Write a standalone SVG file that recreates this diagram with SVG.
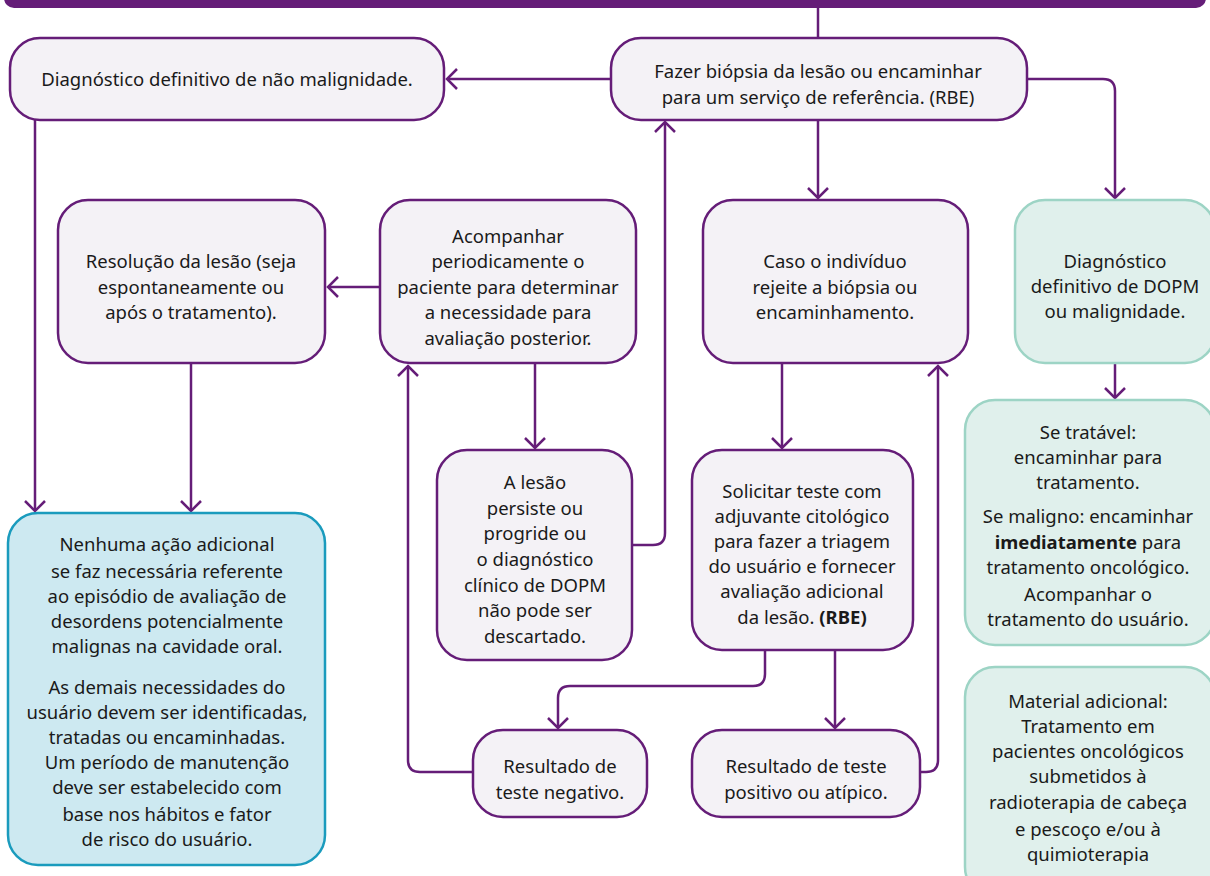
<svg xmlns="http://www.w3.org/2000/svg" width="1210" height="876" viewBox="0 0 1210 876">
<defs>
<style>
.p{fill:#f4f2f6;stroke:#651d78;stroke-width:2.5}
.g{fill:#e0f0ec;stroke:#9dd4c5;stroke-width:2.5}
.b{fill:#cde9f1;stroke:#1a9bbd;stroke-width:2.5}
text{font-family:"Noto Sans","Open Sans",sans-serif;font-size:18.5px;fill:#1a1a1a;text-anchor:middle;font-stretch:semi-condensed}
.c{fill:none;stroke:#651d78;stroke-width:2.5}
.bd{font-weight:bold}
</style>
<marker id="ah" markerUnits="userSpaceOnUse" markerWidth="26" markerHeight="26" viewBox="-13 -13 26 26" refX="0" refY="0" orient="auto">
<path d="M-10,-10 L0,0 L-10,10" fill="none" stroke="#651d78" stroke-width="2.5"/>
</marker>
</defs>
<rect x="4" y="-20" width="1202" height="28" rx="10" fill="#651d78"/>
<g id="connectors">
<path class="c" d="M818,8 V38"/>
<path class="c" d="M611,79 H447" marker-end="url(#ah)"/>
<path class="c" d="M1027,79 H1103 Q1115,79 1115,91 V198" marker-end="url(#ah)"/>
<path class="c" d="M818,120 V198" marker-end="url(#ah)"/>
<path class="c" d="M35,120 V511" marker-end="url(#ah)"/>
<path class="c" d="M380,287 H328" marker-end="url(#ah)"/>
<path class="c" d="M191,363 V511" marker-end="url(#ah)"/>
<path class="c" d="M535,363 V448" marker-end="url(#ah)"/>
<path class="c" d="M632,545 H653 Q665,545 665,533 V122" marker-end="url(#ah)"/>
<path class="c" d="M782,363 V448" marker-end="url(#ah)"/>
<path class="c" d="M1115,363 V398" marker-end="url(#ah)"/>
<path class="c" d="M765,650 V674 Q765,686 753,686 H570 Q558,686 558,698 V728" marker-end="url(#ah)"/>
<path class="c" d="M835,650 V728" marker-end="url(#ah)"/>
<path class="c" d="M473,772 H420 Q408,772 408,760 V366" marker-end="url(#ah)"/>
<path class="c" d="M920,772 H926 Q938,772 938,760 V366" marker-end="url(#ah)"/>
</g>
<g id="nA">
<rect class="p" x="10" y="38" width="434" height="82" rx="30"/>
<text x="227" y="86">Diagnóstico definitivo de não malignidade.</text>
</g>
<g id="nB">
<rect class="p" x="611" y="38" width="416" height="82" rx="30"/>
<text x="818" y="78">Fazer biópsia da lesão ou encaminhar</text>
<text x="818" y="104">para um serviço de referência. (RBE)</text>
</g>
<g id="nC">
<rect class="p" x="58" y="200" width="267" height="163" rx="30"/>
<text x="191" y="268">Resolução da lesão (seja</text>
<text x="191" y="294">espontaneamente ou</text>
<text x="191" y="319">após o tratamento).</text>
</g>
<g id="nD">
<rect class="p" x="380" y="200" width="256" height="163" rx="30"/>
<text x="508" y="243">Acompanhar</text>
<text x="508" y="268">periodicamente o</text>
<text x="508" y="294">paciente para determinar</text>
<text x="508" y="319">a necessidade para</text>
<text x="508" y="345">avaliação posterior.</text>
</g>
<g id="nE">
<rect class="p" x="703" y="200" width="265" height="163" rx="30"/>
<text x="835" y="268">Caso o indivíduo</text>
<text x="835" y="294">rejeite a biópsia ou</text>
<text x="835" y="319">encaminhamento.</text>
</g>
<g id="nF">
<rect class="g" x="1015" y="200" width="200" height="163" rx="30"/>
<text x="1115" y="268">Diagnóstico</text>
<text x="1115" y="293">definitivo de DOPM</text>
<text x="1115" y="318">ou malignidade.</text>
</g>
<g id="nG">
<rect class="p" x="437" y="450" width="195" height="210" rx="30"/>
<text x="535" y="489">A lesão</text>
<text x="535" y="515">persiste ou</text>
<text x="535" y="540">progride ou</text>
<text x="535" y="566">o diagnóstico</text>
<text x="535" y="592">clínico de DOPM</text>
<text x="535" y="617">não pode ser</text>
<text x="535" y="643">descartado.</text>
</g>
<g id="nH">
<rect class="p" x="692" y="450" width="221" height="200" rx="30"/>
<text x="802" y="498">Solicitar teste com</text>
<text x="802" y="523">adjuvante citológico</text>
<text x="802" y="548">para fazer a triagem</text>
<text x="802" y="573">do usuário e fornecer</text>
<text x="802" y="598">avaliação adicional</text>
<text x="802" y="624">da lesão. <tspan class="bd">(RBE)</tspan></text>
</g>
<g id="nI">
<rect class="p" x="473" y="730" width="174" height="87" rx="30"/>
<text x="560" y="773">Resultado de</text>
<text x="560" y="799">teste negativo.</text>
</g>
<g id="nJ">
<rect class="p" x="692" y="730" width="228" height="87" rx="30"/>
<text x="806" y="773">Resultado de teste</text>
<text x="806" y="799">positivo ou atípico.</text>
</g>
<g id="nK">
<rect class="b" x="8" y="513" width="317" height="352" rx="30"/>
<text x="167" y="551">Nenhuma ação adicional</text>
<text x="167" y="578">se faz necessária referente</text>
<text x="167" y="603">ao episódio de avaliação de</text>
<text x="167" y="628">desordens potencialmente</text>
<text x="167" y="653">malignas na cavidade oral.</text>
<text x="167" y="694">As demais necessidades do</text>
<text x="167" y="719">usuário devem ser identificadas,</text>
<text x="167" y="744">tratadas ou encaminhadas.</text>
<text x="167" y="769">Um período de manutenção</text>
<text x="167" y="794">deve ser estabelecido com</text>
<text x="167" y="821">base nos hábitos e fator</text>
<text x="167" y="846">de risco do usuário.</text>
</g>
<g id="nL">
<rect class="g" x="965" y="400" width="250" height="245" rx="30"/>
<text x="1088" y="439">Se tratável:</text>
<text x="1088" y="464">encaminhar para</text>
<text x="1088" y="489">tratamento.</text>
<text x="1088" y="523">Se maligno: encaminhar</text>
<text x="1088" y="549"><tspan class="bd">imediatamente</tspan> para</text>
<text x="1088" y="574">tratamento oncológico.</text>
<text x="1088" y="601">Acompanhar o</text>
<text x="1088" y="626">tratamento do usuário.</text>
</g>
<g id="nM">
<rect class="g" x="965" y="667" width="250" height="230" rx="30"/>
<text x="1088" y="708">Material adicional:</text>
<text x="1088" y="733">Tratamento em</text>
<text x="1088" y="758">pacientes oncológicos</text>
<text x="1088" y="783">submetidos à</text>
<text x="1088" y="809">radioterapia de cabeça</text>
<text x="1088" y="836">e pescoço e/ou à</text>
<text x="1088" y="861">quimioterapia</text>
</g>
</svg>
